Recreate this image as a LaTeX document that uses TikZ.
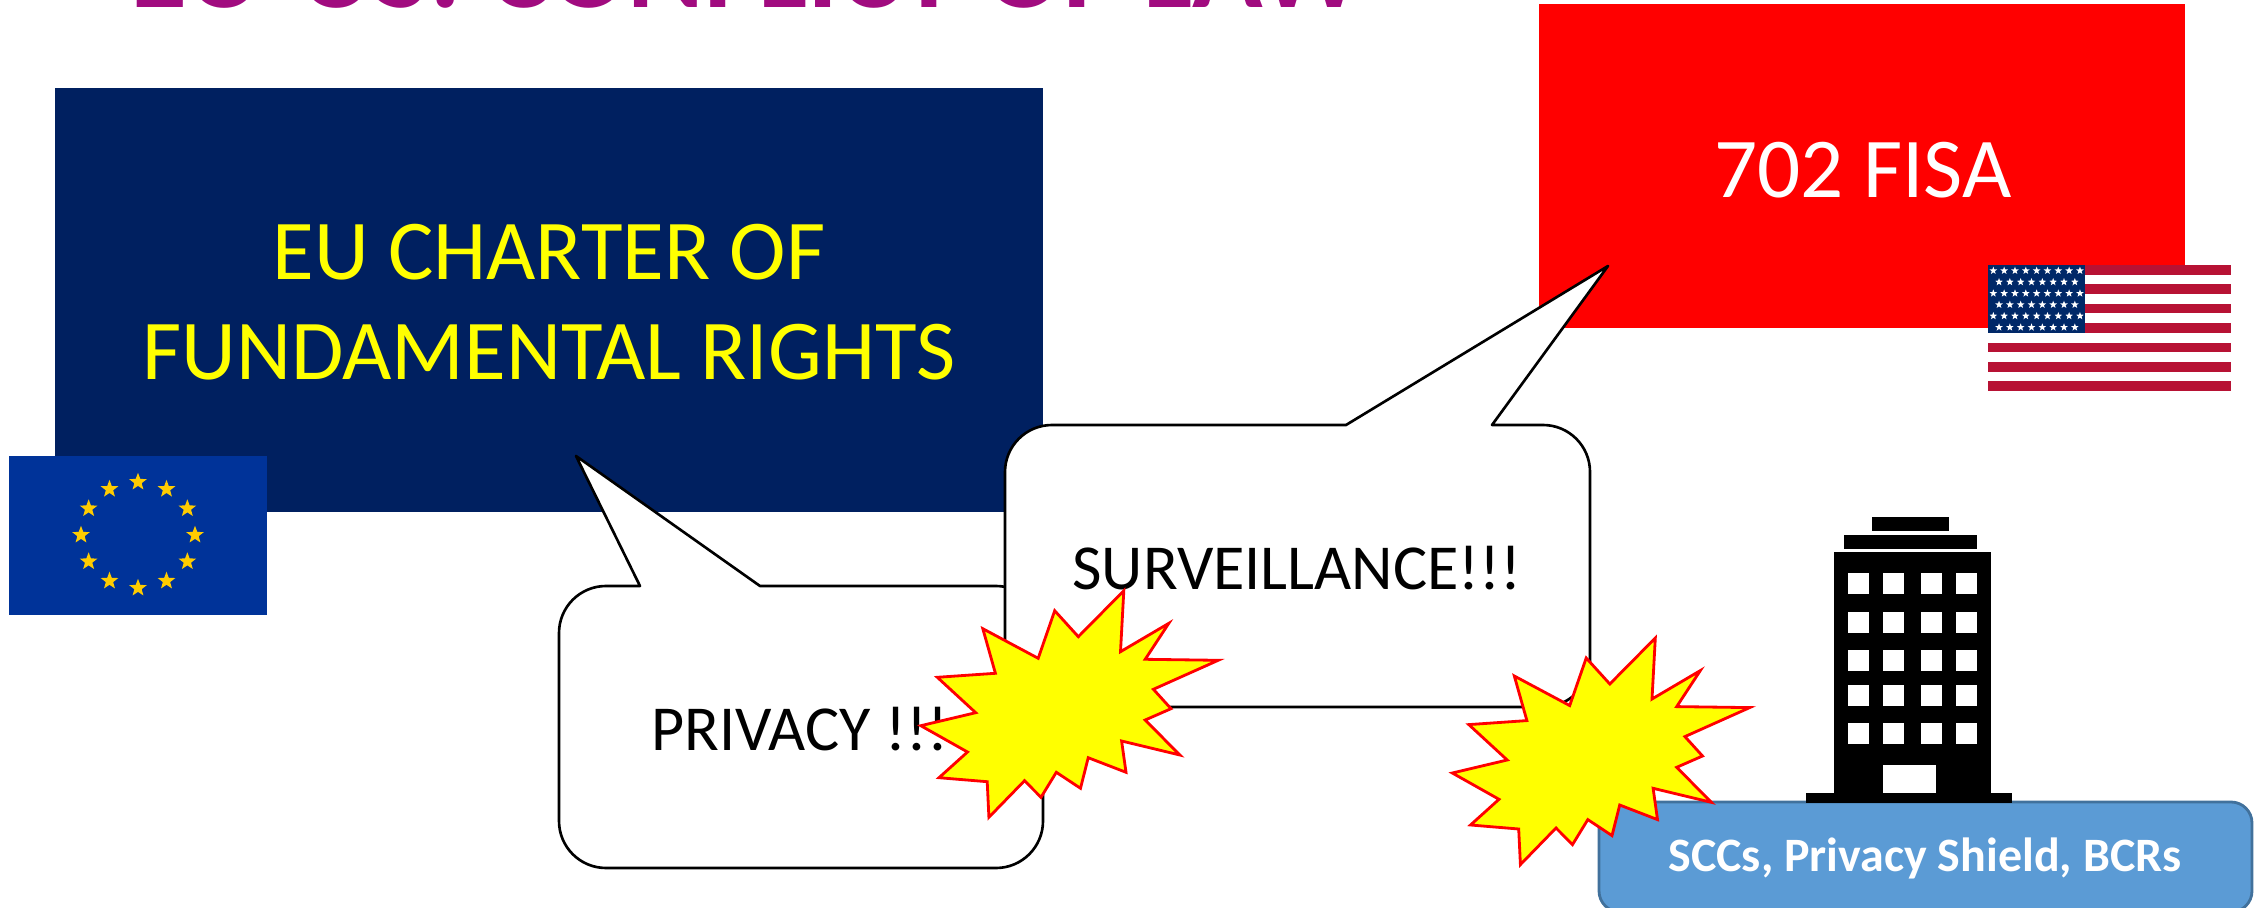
\documentclass[tikz,border=0pt]{standalone}
\usepackage{fontspec}
\setmainfont{Carlito}
\usetikzlibrary{shapes.geometric}
\definecolor{lawtitle}{HTML}{A10B7F}
\definecolor{chartblue}{HTML}{002060}
\definecolor{euflag}{HTML}{003399}
\definecolor{eustar}{HTML}{FFCC00}
\definecolor{usred}{HTML}{B71234}
\definecolor{usblue}{HTML}{002868}
\definecolor{sccfill}{HTML}{5B9BD5}
\definecolor{sccline}{HTML}{41719C}
\definecolor{pureyellow}{HTML}{FFFF00}
\tikzset{
	bubble/.style={draw=black,fill=white,line width=1.5pt,line join=round},
	burst/.style={draw=red,fill=pureyellow,line width=1.6pt,line join=miter},
	eustarnode/.style={star,star points=5,star point ratio=2.4,fill=eustar,inner sep=0pt,minimum size=0.37cm},
	usstarnode/.style={star,star points=5,star point ratio=2.4,fill=white,inner sep=0pt,minimum size=0.16cm},
	bigtext/.style={font=\fontsize{48.5}{58}\selectfont,align=center},
	midtext/.style={font=\fontsize{36.5}{44}\selectfont}
}
\begin{document}
\begin{tikzpicture}[x=0.02cm,y=-0.02cm]
	\useasboundingbox (0,0) rectangle (2254,908);
	\node[anchor=base,text=lawtitle,font=\fontsize{66.3}{80}\selectfont\bfseries] (lawtitle) at (747,8) {EU-US: CONFLICT OF LAW};
	% charter
	\fill[chartblue] (55,88) rectangle (1043,512);
	\node[bigtext,text=pureyellow] (charter1) at (549,252) {EU CHARTER OF};
	\node[bigtext,text=pureyellow] (charter2) at (549,352) {FUNDAMENTAL RIGHTS};
	% eu flag
	\fill[euflag] (9,456) rectangle (267,615);
	\foreach \a in {0,30,...,330}
		\node[eustarnode] (eu\a) at ({138+57*cos(\a)},{535+53*sin(\a)}) {};
	% fisa
	\fill[red] (1539,4) rectangle (2185,328);
	\node[bigtext,text=white] (fisa) at (1863,170) {702 FISA};
	% us flag
	\fill[white] (1988,265) rectangle (2231,391);
	\foreach \y in {265,284.4,303.8,323.2,342.6,362,381.3}
		\fill[usred] (1988,\y) rectangle (2231,\y+9.7);
	\fill[usblue] (1988,265) rectangle (2085,333);
	\foreach \r in {0,2,4}
		\foreach \c in {0,...,8}
			\node[usstarnode] (us\r\c) at (1993.3+10.83*\c,270.7+11.33*\r) {};
	\foreach \r in {1,3,5}
		\foreach \c in {0,...,7}
			\node[usstarnode] (us\r\c) at (1999+10.83*\c,270.7+11.33*\r) {};
	% bubbles
	\draw[bubble] (640,586) -- (576,456) -- (760,586) [rounded corners=0.94cm] -- (1043,586) -- (1043,868) -- (559,868) -- (559,586) [sharp corners] -- cycle;
	\node[midtext,anchor=west] (privacy) at (645,729) {PRIVACY !!!};
	\draw[bubble] (1492,425) -- (1608,266) -- (1346,425) [rounded corners=0.94cm] -- (1005,425) -- (1005,707) -- (1590,707) -- (1590,425) [sharp corners] -- cycle;
	\node[midtext] (surveillance) at (1297,568) {SURVEILLANCE!!!};
	% scc box
	\draw[fill=sccfill,draw=sccline,line width=1.6pt,rounded corners=0.42cm] (1599,802) rectangle (2252,912);
	\node[text=white,font=\fontsize{27.3}{33}\selectfont\bfseries] (scc) at (1925,858) {SCCs, Privacy Shield, BCRs};
	% building
	\fill[black] (1872,517) rectangle (1949,531);
	\fill[black] (1844,535) rectangle (1977,549);
	\fill[black] (1834,552) rectangle (1991,793);
	\fill[black] (1806,793) rectangle (2012,803);
	\foreach \x in {1848,1883,1921,1956}
		\foreach \y in {573,612,650,685,723}
			\fill[white] (\x,\y) rectangle (\x+21,\y+21);
	\fill[white] (1883,765) rectangle (1936,793);
	% bursts
	\foreach \dx/\dy in {0/0,531.5/47.3}
		\draw[burst,shift={(\dx,\dy)}] (1123.8,590.7) -- (1120.5,651.7) -- (1168.8,623.3) -- (1145.2,659.3) -- (1218.2,660.3) -- (1153.4,689.3) -- (1171,708.7) -- (1145.2,720) -- (1179.8,755) -- (1121.6,741) -- (1126,772.3) -- (1088.2,757.7) -- (1080.5,788.3) -- (1056.3,772.3) -- (1041,797.3) -- (1024.5,780.7) -- (988.9,817.3) -- (987.2,781.7) -- (939,777.7) -- (967.5,752) -- (920.8,725.7) -- (975.7,712.7) -- (937.3,677.3) -- (995.4,673.3) -- (982.8,628.7) -- (1038.2,658.3) -- (1054.7,610.7) -- (1078.3,636.7) -- cycle;
\end{tikzpicture}
\end{document}
